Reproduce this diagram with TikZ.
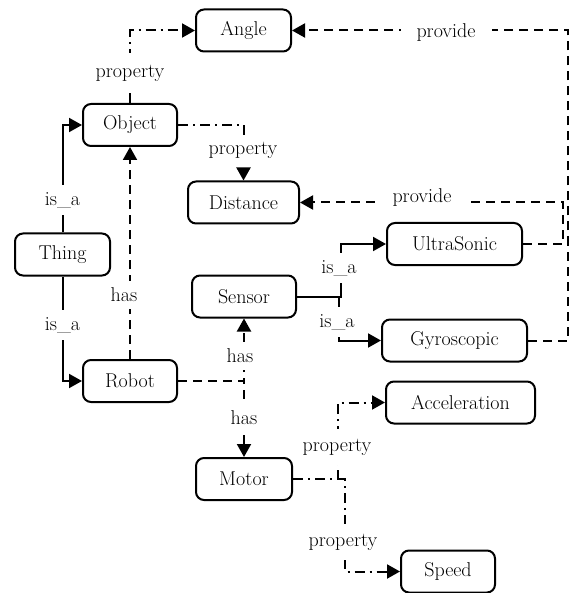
\documentclass[tikz,border=0pt]{standalone}
\usetikzlibrary{arrows.meta}
\begin{document}
\begin{tikzpicture}[x=1pt,y=-1pt,
  box/.style={draw,line width=2pt,rounded corners=8pt,minimum height=42pt,inner sep=2pt,font=\fontsize{20}{24}\selectfont},
  lbl/.style={fill=white,inner xsep=8pt,inner ysep=7pt,font=\fontsize{20}{24}\selectfont},
  conn/.style={line width=2pt},
  tip/.style={-{Triangle[length=13pt,width=14pt]}},
  dsh/.style={conn,dash pattern=on 9pt off 6pt},
  dshdot/.style={conn,dash pattern=on 10pt off 5pt on 2pt off 5pt}]
\useasboundingbox (0,0) rectangle (573,593);
% nodes
\node[box,minimum width=95pt]  (angle)  at (243.5,30.5) {Angle};
\node[box,minimum width=94pt]  (object) at (130,125) {Object};
\node[box,minimum width=111pt] (dist)   at (243.5,202.5) {Distance};
\node[box,minimum width=95pt]  (thing)  at (62.5,254.5) {Thing};
\node[box,minimum width=104pt] (sensor) at (244,296.5) {Sensor};
\node[box,minimum width=94pt]  (robot)  at (130,381) {Robot};
\node[box,minimum width=135pt] (ultra)  at (454.5,244) {UltraSonic};
\node[box,minimum width=145pt] (gyro)   at (454.5,340.5) {Gyroscopic};
\node[box,minimum width=149pt] (accel)  at (460.5,402.5) {Acceleration};
\node[box,minimum width=96pt]  (motor)  at (244,479) {Motor};
\node[box,minimum width=94pt]  (speed)  at (448,571.5) {Speed};
% helper coordinates
\coordinate (s1) at (341,296.5);
\coordinate (s2) at (339,296.5);
\coordinate (u1) at (563,244);
\coordinate (g1) at (568,340.5);
\coordinate (m1) at (338,479);
\coordinate (m2) at (345,479);
% connectors
\draw[conn,tip] (thing.north) |- (object.west);
\draw[conn,tip] (thing.south) |- (robot.west);
\draw[dsh,tip] (robot.north) -- (object.south);
\draw[dsh,tip] (robot.east) -| (sensor.south);
\draw[dsh,tip] (robot.east) -| (motor.north);
\draw[conn,tip] (sensor.east) -- (s1) |- (ultra.west);
\draw[conn,tip] (s2) |- (gyro.west);
\draw[dshdot,tip] (object.north) |- (angle.west);
\draw[dshdot,tip] (object.east) -| (dist.north);
\draw[dsh,tip] (gyro.east) -- (g1) |- (angle.east);
\draw[dsh,tip] (ultra.east) -- (u1) |- (dist.east);
\draw[dshdot,tip] (motor.east) -- (m1) |- (accel.west);
\draw[dshdot,tip] (motor.east) -- (m2) |- (speed.west);
% labels
\node[lbl] (l1) at (62.5,200) {is\_a};
\node[lbl] (l2) at (62.5,325) {is\_a};
\node[lbl] (l3) at (124,295) {has};
\node[lbl] (l4) at (240,356) {has};
\node[lbl] (l5) at (244,418) {has};
\node[lbl] (l6) at (339,268) {is\_a};
\node[lbl] (l7) at (337,322) {is\_a};
\node[lbl,inner ysep=12pt] (l8) at (130,73) {property};
\node[lbl] (l9) at (243,150) {property};
\node[lbl,inner xsep=16pt] (l10) at (446,33) {provide};
\node[lbl,inner xsep=16pt] (l11) at (422,198) {provide};
\node[lbl,inner ysep=10pt] (l12) at (337,447) {property};
\node[lbl,inner ysep=10pt] (l13) at (343,542) {property};
\end{tikzpicture}
\end{document}
